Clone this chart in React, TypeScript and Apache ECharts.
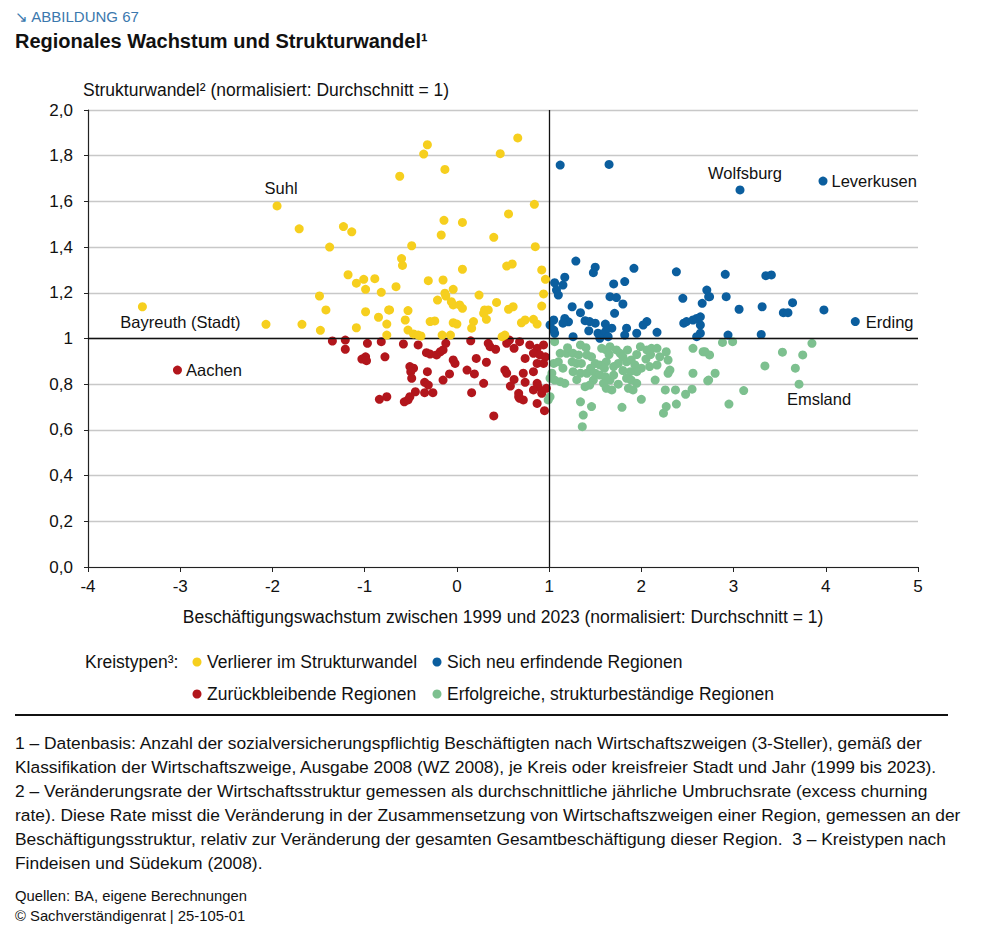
import React, { useEffect, useRef } from "react";
import * as echarts from "echarts";

// ---- Data (x: Beschäftigungswachstum, y: Strukturwandel) ----
const verlierer: number[][] = [
  [-1.95, 1.58], [-1.71, 1.48], [-1.23, 1.49], [-1.14, 1.467], [-1.38, 1.40], [-0.62, 1.71], [-0.6, 1.35], [-0.59, 1.32],
  [-0.32, 1.848], [-0.36, 1.807], [0.66, 1.878], [0.47, 1.809], [-0.13, 1.74], [0.84, 1.587], [0.56, 1.545], [-0.14, 1.517],
  [0.06, 1.508], [-0.17, 1.453], [0.40, 1.443], [-0.49, 1.406], [0.85, 1.402], [0.54, 1.317], [0.60, 1.326], [0.06, 1.303],
  [0.92, 1.30], [0.96, 1.259], [-0.66, 1.227], [-0.31, 1.253], [-0.15, 1.256], [-0.04, 1.215], [-0.13, 1.198], [-0.12, 1.186],
  [0.24, 1.19], [-0.21, 1.168], [0.94, 1.195], [-0.06, 1.161], [-0.04, 1.147], [0.03, 1.147], [0.06, 1.132], [0.43, 1.158],
  [0.56, 1.128], [0.61, 1.139], [0.92, 1.142], [0.30, 1.125], [0.34, 1.125], [0.29, 1.11], [-0.73, 1.125], [-0.53, 1.122],
  [0.32, 1.084], [-0.56, 1.081], [-0.29, 1.074], [-0.24, 1.077], [-0.04, 1.069], [0.0, 1.063], [0.18, 1.074], [0.16, 1.045],
  [0.70, 1.069], [0.74, 1.081], [0.83, 1.084], [0.87, 1.063], [-0.53, 1.037], [-0.47, 1.02], [-0.42, 1.015], [-0.39, 1.011],
  [-0.16, 1.015], [-0.07, 1.015], [0.49, 1.008], [0.52, 1.015], [-1.18, 1.279], [-1.09, 1.242], [-1.01, 1.259], [-0.99, 1.215],
  [-0.89, 1.262], [-0.82, 1.202], [-1.49, 1.186], [-3.41, 1.139], [-1.42, 1.125], [-0.99, 1.117], [-0.74, 1.125], [-2.07, 1.062],
  [-1.68, 1.062], [-1.48, 1.036], [-1.09, 1.047], [-0.85, 1.093], [-0.76, 1.063], [-0.76, 1.015],
];

const zurueck: number[][] = [
  [-1.35, 0.989], [-1.21, 0.993], [-1.21, 0.953], [-0.97, 0.979], [-0.82, 0.986], [-1.03, 0.91], [-0.99, 0.92], [-0.98, 0.903],
  [-0.78, 0.92], [-3.03, 0.862], [-0.84, 0.734], [-0.76, 0.745], [-0.58, 0.976], [-0.42, 0.972], [-0.33, 0.938], [-0.29, 0.932],
  [-0.22, 0.928], [-0.18, 0.942], [-0.15, 0.95], [-0.12, 0.979], [0.15, 0.99], [0.34, 0.979], [0.36, 0.964], [0.42, 0.953],
  [0.54, 0.979], [0.57, 0.993], [0.68, 0.986], [0.62, 0.957], [0.79, 0.972], [0.87, 0.957], [0.94, 0.972], [0.83, 0.935],
  [0.90, 0.928], [0.96, 0.92], [0.74, 0.913], [0.87, 0.891], [0.94, 0.891], [-0.04, 0.906], [-0.02, 0.891], [0.21, 0.913],
  [0.32, 0.896], [-0.51, 0.877], [-0.47, 0.87], [-0.50, 0.855], [-0.49, 0.826], [-0.32, 0.855], [0.11, 0.862], [0.19, 0.845],
  [0.52, 0.862], [0.54, 0.848], [0.72, 0.848], [0.83, 0.855], [-0.08, 0.845], [-0.15, 0.818], [0.62, 0.821], [0.29, 0.804],
  [-0.35, 0.808], [-0.31, 0.796], [0.58, 0.792], [0.74, 0.808], [0.87, 0.804], [0.88, 0.789], [-0.45, 0.767], [-0.35, 0.763],
  [-0.26, 0.763], [0.16, 0.763], [0.83, 0.775], [0.92, 0.76], [0.97, 0.782], [0.67, 0.76], [0.68, 0.738], [0.72, 0.731],
  [0.67, 0.745], [-0.57, 0.723], [-0.53, 0.731], [-0.51, 0.745], [0.87, 0.716], [0.95, 0.684], [0.40, 0.661],
];

const neuErfindend: number[][] = [
  [1.12, 1.759], [1.65, 1.762], [1.29, 1.339], [1.50, 1.312], [1.48, 1.288], [1.92, 1.307], [2.38, 1.292], [1.17, 1.268],
  [1.06, 1.244], [1.15, 1.234], [1.08, 1.212], [1.10, 1.19], [1.70, 1.239], [1.82, 1.249], [1.66, 1.183], [1.73, 1.179],
  [1.80, 1.151], [1.43, 1.147], [1.25, 1.139], [1.34, 1.113], [1.71, 1.11], [2.45, 1.176], [2.71, 1.212], [2.73, 1.183],
  [2.66, 1.154], [1.05, 1.081], [1.01, 1.059], [1.05, 1.037], [1.06, 1.023], [1.17, 1.088], [1.21, 1.073], [1.15, 1.067],
  [1.39, 1.078], [1.44, 1.074], [1.50, 1.067], [1.61, 1.063], [1.68, 1.045], [1.43, 1.034], [1.26, 1.008], [1.53, 1.023],
  [1.57, 1.015], [1.61, 1.03], [1.64, 1.008], [1.55, 1.001], [1.84, 1.045], [1.82, 1.015], [1.95, 1.023], [2.06, 1.074],
  [2.02, 1.059], [2.17, 1.027], [2.46, 1.067], [2.49, 1.074], [2.56, 1.081], [2.60, 1.088], [2.64, 1.059], [2.64, 1.023],
  [2.60, 1.008], [3.07, 1.65], [3.97, 1.689], [2.91, 1.281], [3.35, 1.275], [3.41, 1.278], [2.74, 1.183], [2.92, 1.183],
  [3.06, 1.128], [3.31, 1.139], [3.64, 1.157], [3.54, 1.113], [3.59, 1.113], [3.98, 1.125], [4.32, 1.074], [2.94, 1.015],
  [3.30, 1.018], [2.64, 1.095],
];

const erfolgreich: number[][] = [
  [2.88, 0.983], [2.99, 0.986], [2.69, 0.942], [2.74, 0.928], [2.80, 0.848], [2.72, 0.815], [3.34, 0.88], [3.53, 0.94],
  [3.75, 0.928], [3.85, 0.979], [3.67, 0.87], [3.71, 0.80], [3.11, 0.772], [2.95, 0.713], [1.06, 0.986], [1.12, 0.935],
  [1.19, 0.935], [1.05, 0.891], [1.10, 0.898], [1.03, 0.848], [1.01, 0.826], [1.06, 0.818], [1.12, 0.811], [1.17, 0.804],
  [1.26, 0.935], [1.32, 0.928], [1.34, 0.972], [1.25, 0.898], [1.30, 0.891], [1.35, 0.891], [1.41, 0.928], [1.46, 0.92],
  [1.26, 0.855], [1.34, 0.848], [1.41, 0.848], [1.50, 0.891], [1.55, 0.884], [1.62, 0.898], [1.57, 0.957], [1.62, 0.95],
  [1.66, 0.964], [1.73, 0.95], [1.77, 0.935], [1.50, 0.848], [1.55, 0.84], [1.48, 0.818], [1.61, 0.833], [1.66, 0.818],
  [1.59, 0.804], [1.70, 0.877], [1.75, 0.891], [1.80, 0.92], [1.84, 0.898], [1.89, 0.906], [1.93, 0.884], [1.99, 0.964],
  [2.06, 0.95], [2.11, 0.957], [2.17, 0.957], [2.27, 0.942], [2.17, 0.884], [2.09, 0.877], [2.00, 0.87], [1.95, 0.855],
  [1.88, 0.855], [1.84, 0.826], [1.89, 0.818], [1.95, 0.804], [1.86, 0.782], [1.91, 0.775], [1.68, 0.775], [1.62, 0.782],
  [1.39, 0.789], [1.44, 0.796], [2.15, 0.818], [2.00, 0.734], [2.29, 0.906], [2.31, 0.862], [2.29, 0.848], [2.26, 0.775],
  [2.37, 0.775], [2.27, 0.702], [2.24, 0.673], [2.38, 0.713], [2.48, 0.756], [2.55, 0.778], [2.56, 0.848], [2.56, 0.957],
  [2.67, 0.942], [2.73, 0.818], [1.01, 0.745], [0.99, 0.731], [1.34, 0.723], [1.46, 0.702], [1.37, 0.665], [1.36, 0.614],
  [1.79, 0.699], [1.20, 0.96], [1.40, 0.96], [1.45, 0.87], [1.60, 0.87], [1.65, 0.93], [1.85, 0.95], [1.95, 0.93],
  [2.05, 0.91], [2.10, 0.93], [1.70, 0.84], [1.80, 0.86], [1.30, 0.82], [1.15, 0.87], [1.75, 0.80], [2.20, 0.92],
];

// Named regions: [name, series key, x, y]
const namedRegions: [string, string, number, number][] = [
  ["Suhl", "verlierer", -1.95, 1.58],
  ["Bayreuth (Stadt)", "verlierer", -3.41, 1.139],
  ["Aachen", "zurueck", -3.03, 0.862],
  ["Wolfsburg", "neu", 3.07, 1.65],
  ["Leverkusen", "neu", 3.97, 1.689],
  ["Erding", "neu", 4.32, 1.074],
  ["Emsland", "erfolg", 3.71, 0.80],
];

const seriesNames = [
  "Verlierer im Strukturwandel",
  "Sich neu erfindende Regionen",
  "Zurückbleibende Regionen",
  "Erfolgreiche, strukturbeständige Regionen",
];

const xTicks = [-4, -3, -2, -1, 0, 1, 2, 3, 4, 5];

const footnotes = [
  "1 – Datenbasis: Anzahl der sozialversicherungspflichtig Beschäftigten nach Wirtschaftszweigen (3-Steller), gemäß der",
  "Klassifikation der Wirtschaftszweige, Ausgabe 2008 (WZ 2008), je Kreis oder kreisfreier Stadt und Jahr (1999 bis 2023).",
  "2 – Veränderungsrate der Wirtschaftsstruktur gemessen als durchschnittliche jährliche Umbruchsrate (excess churning",
  "rate). Diese Rate misst die Veränderung in der Zusammensetzung von Wirtschaftszweigen einer Region, gemessen an der",
  "Beschäftigungsstruktur, relativ zur Veränderung der gesamten Gesamtbeschäftigung dieser Region.  3 – Kreistypen nach",
  "Findeisen und Südekum (2008).",
];

const FONT = "'Liberation Sans', Arial, sans-serif";
const COLORS: Record<string, string> = {
  verlierer: "#F6CF1E",
  neu: "#0B5E9E",
  zurueck: "#B2161C",
  erfolg: "#7DC08F",
};

const labelStyles: Record<string, any> = {
  Suhl: { position: "top", distance: 5, offset: [4, 0] },
  "Bayreuth (Stadt)": { position: "bottom", distance: 2, offset: [38, 0] },
  Aachen: { position: "right", distance: 4 },
  Wolfsburg: { position: "top", distance: 4, offset: [5, 0] },
  Leverkusen: { position: "right", distance: 4 },
  Erding: { position: "right", distance: 6 },
  Emsland: { position: "bottom", distance: 2, offset: [20, 0] },
};

function buildData(points: number[][], key: string) {
  return points.map((p) => {
    const named = namedRegions.find((n) => n[1] === key && n[2] === p[0] && n[3] === p[1]);
    if (!named) return p;
    return {
      value: p,
      label: {
        show: true,
        formatter: named[0],
        color: "#111",
        fontSize: 16.5,
        fontFamily: FONT,
        ...labelStyles[named[0]],
      },
    };
  });
}

export default function App() {
  const ref = useRef<HTMLDivElement>(null);

  useEffect(() => {
    if (!ref.current) return;
    const chart = echarts.init(ref.current, undefined, { renderer: "svg" });

    const mkSeries = (name: string, key: string, pts: number[][], z: number, extra: any = {}) => ({
      type: "scatter",
      name,
      data: buildData(pts, key),
      symbolSize: 9,
      itemStyle: { color: COLORS[key], opacity: 1 },
      z,
      ...extra,
    });

    const legendRows = [
      { x: 197, y: 662, key: "verlierer", text: seriesNames[0] },
      { x: 437, y: 662, key: "neu", text: seriesNames[1] },
      { x: 197, y: 694, key: "zurueck", text: seriesNames[2] },
      { x: 437, y: 694, key: "erfolg", text: seriesNames[3] },
    ];

    const graphics: any[] = [
      {
        type: "text",
        left: 15,
        top: 9,
        style: { text: "↘ ABBILDUNG 67", fill: "#3B78AD", font: `15px ${FONT}` },
      },
      {
        type: "text",
        left: 15,
        top: 31,
        style: { text: "Regionales Wachstum und Strukturwandel¹", fill: "#111", font: `bold 20px ${FONT}` },
      },
      {
        type: "text",
        left: 83,
        top: 81,
        style: { text: "Strukturwandel² (normalisiert: Durchschnitt = 1)", fill: "#111", font: `17.5px ${FONT}` },
      },
      {
        type: "text",
        left: 85,
        top: 653,
        style: { text: "Kreistypen³:", fill: "#111", font: `17.5px ${FONT}` },
      },
      {
        type: "line",
        shape: { x1: 15, y1: 715, x2: 948, y2: 715 },
        style: { stroke: "#111", lineWidth: 2 },
      },
      {
        type: "text",
        left: 15,
        top: 888,
        style: { text: "Quellen: BA, eigene Berechnungen", fill: "#111", font: `14.8px ${FONT}` },
      },
      {
        type: "text",
        left: 15,
        top: 908,
        style: { text: "© Sachverständigenrat | 25-105-01", fill: "#111", font: `14.8px ${FONT}` },
      },
    ];
    legendRows.forEach((r) => {
      graphics.push({
        type: "circle",
        shape: { cx: r.x, cy: r.y, r: 4.5 },
        style: { fill: COLORS[r.key] },
      });
      graphics.push({
        type: "text",
        left: r.x + 10,
        top: r.y - 9,
        style: { text: r.text, fill: "#111", font: `17.5px ${FONT}` },
      });
    });
    footnotes.forEach((line, i) => {
      graphics.push({
        type: "text",
        left: 15,
        top: 734 + i * 24,
        style: { text: line, fill: "#111", font: `17.4px ${FONT}` },
      });
    });

    chart.setOption({
      animation: false,
      backgroundColor: "#fff",
      grid: { left: 88, right: 82, top: 110, bottom: 368, containLabel: false },
      xAxis: {
        type: "value",
        min: xTicks[0],
        max: xTicks[xTicks.length - 1],
        interval: 1,
        name: "Beschäftigungswachstum zwischen 1999 und 2023 (normalisiert: Durchschnitt = 1)",
        nameLocation: "middle",
        nameGap: 41,
        nameTextStyle: { color: "#111", fontSize: 17.5, fontFamily: FONT },
        axisLine: { onZero: false, lineStyle: { color: "#222", width: 1.2 } },
        axisTick: { show: true, length: 5, lineStyle: { color: "#222" } },
        axisLabel: { color: "#111", fontSize: 17, fontFamily: FONT, margin: 11 },
        splitLine: { show: false },
      },
      yAxis: {
        type: "value",
        min: 0,
        max: 2,
        interval: 0.2,
        axisLine: { show: true, onZero: false, lineStyle: { color: "#222", width: 1.2 } },
        axisTick: { show: true, length: 4, lineStyle: { color: "#222" } },
        axisLabel: {
          color: "#111",
          fontSize: 17,
          fontFamily: FONT,
          margin: 15,
          formatter: (v: number) => (Math.abs(v - 1) < 1e-9 ? "1" : v.toFixed(1).replace(".", ",")),
        },
        splitLine: { show: true, lineStyle: { color: "#C8C8C8", width: 1.3 } },
      },
      series: [
        mkSeries(seriesNames[3], "erfolg", erfolgreich, 2),
        mkSeries(seriesNames[2], "zurueck", zurueck, 3),
        mkSeries(seriesNames[1], "neu", neuErfindend, 4),
        mkSeries(seriesNames[0], "verlierer", verlierer, 5, {
          markLine: {
            silent: true,
            symbol: "none",
            label: { show: false },
            lineStyle: { color: "#111", type: "solid", width: 1.3 },
            data: [{ xAxis: 1 }, { yAxis: 1 }],
          },
        }),
      ],
      graphic: graphics,
    });

    return () => chart.dispose();
  }, []);

  return (
    <div
      ref={ref}
      style={{ position: "absolute", left: 0, top: 0, width: 1000, height: 935, background: "#fff" }}
    />
  );
}
